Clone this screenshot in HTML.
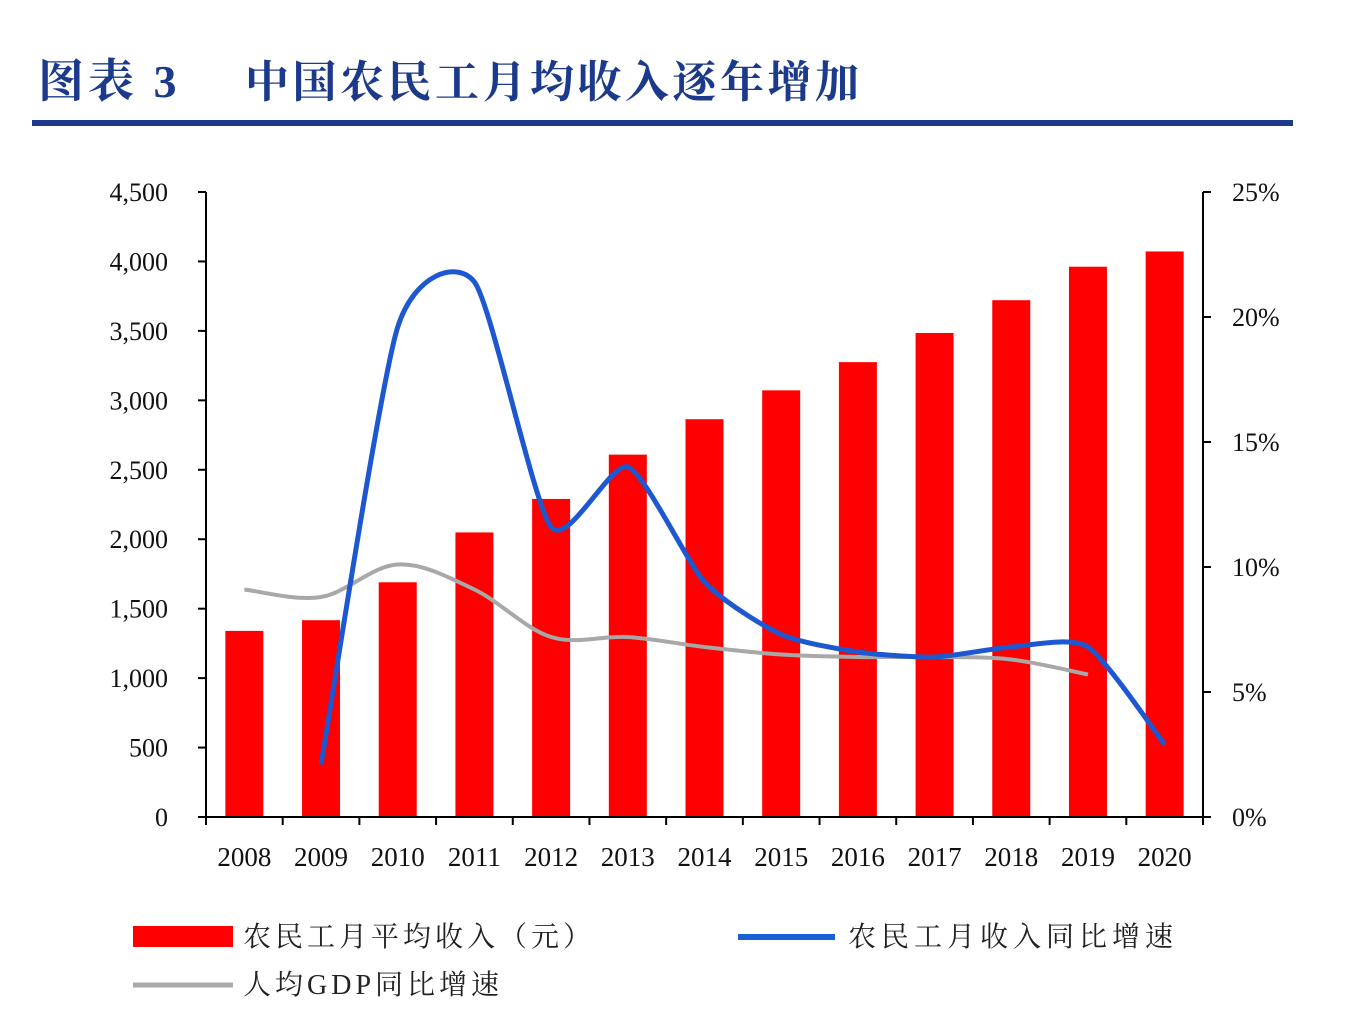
<!DOCTYPE html>
<html><head><meta charset="utf-8"><style>
body{margin:0;background:#fff;}
svg text{font-family:"Liberation Serif","Noto Serif CJK SC",serif;}
</style></head><body>
<svg width="1368" height="1016" xmlns="http://www.w3.org/2000/svg" id="chart">
<text x="38" y="97" font-size="46" font-weight="bold" fill="#1c3a8c" letter-spacing="4">图表 3</text>
<text x="245" y="97" font-size="44" font-weight="bold" fill="#1c3a8c" letter-spacing="3.5">中国农民工月均收入逐年增加</text>
<rect x="32" y="120" width="1261" height="6" fill="#1c3a8c"/>
<g id="bars"></g>
<g id="axes"></g>
<g id="lines"></g>
<g>
<rect x="133" y="926" width="100" height="21" fill="#f00"/>
<text x="243" y="946" font-size="28" fill="#222" letter-spacing="4">农民工月平均收入（元）</text>
<line x1="738" y1="937" x2="835" y2="937" stroke="#1a5fd6" stroke-width="6"/>
<text x="848" y="946" font-size="28" fill="#222" letter-spacing="5">农民工月收入同比增速</text>
<line x1="133" y1="985" x2="233" y2="985" stroke="#aaa" stroke-width="5"/>
<text x="243" y="994" font-size="28" fill="#222" letter-spacing="4">人均GDP同比增速</text>
</g>
</svg>
<script>
const years=["2008","2009","2010","2011","2012","2013","2014","2015","2016","2017","2018","2019","2020"];
const income=[1340,1417,1690,2049,2290,2609,2864,3072,3275,3485,3721,3962,4072];
const incomeGrowth=[null,2.1,19.6,21.4,11.6,14.0,9.4,7.3,6.6,6.4,6.8,6.8,2.9];
const gdpGrowth=[9.1,8.8,10.1,9.1,7.2,7.2,6.8,6.5,6.4,6.4,6.3,5.7,null];
const leftTicks=[0,500,1000,1500,2000,2500,3000,3500,4000,4500];
const rightTicks=[0,5,10,15,20,25];
const NS="http://www.w3.org/2000/svg";
const x0=206,x1=1203,y0=817,y1=192,step=(x1-x0)/years.length;
const xc=i=>x0+step*(i+0.5);
const yl=v=>y0-(v/4500)*(y0-y1);
const yr=v=>y0-(v/25)*(y0-y1);
function mk(tag,attrs,parent,text){const e=document.createElementNS(NS,tag);for(const k in attrs)e.setAttribute(k,attrs[k]);if(text!=null)e.textContent=text;parent.appendChild(e);return e;}
const bars=document.getElementById('bars'),axes=document.getElementById('axes'),lines=document.getElementById('lines');
income.forEach((v,i)=>{const r=mk('rect',{x:xc(i)-19,y:yl(v),width:38,height:y0-yl(v),fill:'#f00'},bars);

});
let a=mk('path',{d:`M${x0},${y1} V${y0} H${x1} V${y1}`,fill:'none',stroke:'#000','stroke-width':2},axes);


leftTicks.forEach(v=>{mk('line',{x1:x0-8,x2:x0,y1:yl(v),y2:yl(v),stroke:'#000','stroke-width':2},axes);
const t=mk('text',{x:168,y:yl(v)+9,'font-size':26,'text-anchor':'end',fill:'#111'},axes,v.toLocaleString('en-US'));

});
rightTicks.forEach(v=>{mk('line',{x1:x1,x2:x1+8,y1:yr(v),y2:yr(v),stroke:'#000','stroke-width':2},axes);
const t=mk('text',{x:1232,y:yr(v)+9,'font-size':26,fill:'#111'},axes,v+'%');

});
years.forEach((y,i)=>{mk('line',{x1:x0+step*i,x2:x0+step*i,y1:y0,y2:y0+8,stroke:'#000','stroke-width':2},axes);
const t=mk('text',{x:xc(i),y:866,'font-size':27,'text-anchor':'middle',fill:'#111'},axes,y);

});
mk('line',{x1:x1,x2:x1,y1:y0,y2:y0+8,stroke:'#000','stroke-width':2},axes);
function smooth(vals,k){const p=[];vals.forEach((v,i)=>{if(v!=null)p.push([xc(i),yr(v)]);});
let d=`M${p[0][0]},${p[0][1]}`;for(let i=0;i<p.length-1;i++){const a=p[i-1]||p[i],b=p[i],c=p[i+1],e=p[i+2]||c;
d+=` C${b[0]+(c[0]-a[0])*k},${b[1]+(c[1]-a[1])*k} ${c[0]-(e[0]-b[0])*k},${c[1]-(e[1]-b[1])*k} ${c[0]},${c[1]}`;}return d;}
const g=mk('path',{d:smooth(gdpGrowth,1/6),fill:'none',stroke:'#a8a8a8','stroke-width':4},lines);


const b=mk('path',{d:smooth(incomeGrowth,1/9),fill:'none',stroke:'#1d58d0','stroke-width':5},lines);


</script>
</body></html>
